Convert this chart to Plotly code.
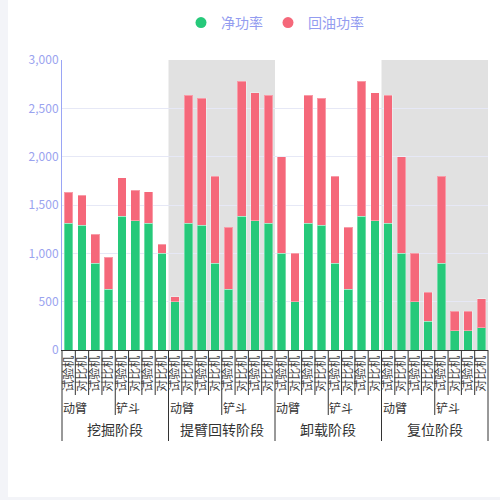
import plotly.graph_objects as go

# categories
stages = ["挖掘阶段", "提臂回转阶段", "卸载阶段", "复位阶段"]
parts = ["动臂", "铲斗"]
machines = ["试验机", "对比机", "试验机", "对比机"]

# series values (32 bars, stage by stage)
net_power = [1310, 1290, 900, 630, 1385, 1335, 1310, 1000,
             500, 1310, 1290, 900, 630, 1385, 1335, 1310,
             1000, 500, 1310, 1290, 900, 630, 1385, 1335,
             1310, 1000, 500, 300, 900, 200, 200, 230]
return_power = [320, 310, 300, 330, 395, 320, 325, 95,
                50, 1325, 1315, 900, 640, 1395, 1325, 1325,
                1000, 500, 1325, 1315, 900, 640, 1395, 1325,
                1325, 1000, 500, 300, 900, 200, 200, 300]

yticks = [0, 500, 1000, 1500, 2000, 2500, 3000]

GREEN = "#26c97a"
RED = "#f5687a"
PAGE = "#f3f4f8"
FONT = "Noto Sans CJK SC"

n = len(net_power)
x = list(range(n))
ticktext = [machines[i % len(machines)] for i in x]
per_stage = n // len(stages)
per_part = per_stage // len(parts)

# plot area in pixels: x 62..488, y 60..350
L, R, T, B = 62, 488, 60, 350
W, H = R - L, B - T


def px(v):
    return (v - L) / W


def py(v):
    return (B - v) / H


fig = go.Figure()
fig.add_trace(go.Bar(x=x, y=net_power, name="净功率", marker=dict(color=GREEN, line=dict(color="rgba(255,255,255,0.35)", width=1)),
                     showlegend=False))
fig.add_trace(go.Bar(x=x, y=return_power, name="回油功率", marker=dict(color=RED, line=dict(color="rgba(255,255,255,0.35)", width=1)),
                     showlegend=False))
# round legend markers
fig.add_trace(go.Scatter(x=[None], y=[None], mode="markers", name="净功率",
                         marker=dict(symbol="circle", size=11, color=GREEN)))
fig.add_trace(go.Scatter(x=[None], y=[None], mode="markers", name="回油功率",
                         marker=dict(symbol="circle", size=11, color=RED)))

shapes = []
# light page strips left of and below the white card
shapes.append(dict(type="rect", xref="paper", yref="paper", layer="below",
                   x0=px(0), x1=px(8), y0=py(500), y1=py(0), fillcolor=PAGE, line=dict(width=0)))
shapes.append(dict(type="rect", xref="paper", yref="paper", layer="below",
                   x0=px(0), x1=px(500), y0=py(500), y1=py(497), fillcolor=PAGE, line=dict(width=0)))
# shaded stages
for s in range(1, len(stages), 2):
    shapes.append(dict(type="rect", xref="paper", yref="paper", layer="below",
                       x0=s * per_stage / n, x1=(s + 1) * per_stage / n, y0=0, y1=1,
                       fillcolor="#e1e1e1", line=dict(width=0)))
# boundary ticks below the axis
for k in range(n + 1):
    if k % per_stage == 0:
        depth = 441
    elif k % per_part == 0:
        depth = 415
    else:
        depth = 395
    shapes.append(dict(type="line", xref="paper", yref="paper", x0=k / n, x1=k / n,
                       y0=0, y1=py(depth), line=dict(color="#333", width=1)))

annotations = []
for s, stage in enumerate(stages):
    annotations.append(dict(xref="paper", yref="paper", x=(s + 0.5) * per_stage / n, y=py(429),
                            text=stage, showarrow=False, xanchor="center", yanchor="middle",
                            font=dict(family=FONT, size=14, color="#333")))
    for p, part in enumerate(parts):
        annotations.append(dict(xref="paper", yref="paper", x=(s * per_stage + p * per_part) / n, y=py(407),
                                text=part, showarrow=False, xanchor="left", yanchor="middle", xshift=-1,
                                font=dict(family=FONT, size=12, color="#333")))

fig.update_layout(
    width=500, height=500,
    margin=dict(l=L, r=500 - R, t=T, b=500 - B, autoexpand=False),
    paper_bgcolor="white", plot_bgcolor="rgba(0,0,0,0)",
    barmode="stack", bargap=0.35,
    font=dict(family=FONT),
    legend=dict(orientation="h", x=0.5, xanchor="center", y=py(23), yanchor="middle", traceorder="normal",
                font=dict(size=14, color="#939cf0"), itemwidth=30, bgcolor="rgba(0,0,0,0)"),
    shapes=shapes, annotations=annotations,
)
fig.update_xaxes(range=[-0.5, n - 0.5], tickvals=x, ticktext=ticktext, tickangle=-90,
                 tickfont=dict(size=12, color="#444"), showline=True, linecolor="#333",
                 linewidth=1, showgrid=False, zeroline=False, ticks="", automargin=False)
fig.update_yaxes(range=[0, 3000], tickvals=yticks, tickformat=",", showline=True,
                 linecolor="#9aa5f5", linewidth=1, gridcolor="#e6e8f6", zeroline=False,
                 tickfont=dict(size=12, color="#9aa3ef"), ticks="", automargin=False)

fig.write_html("out.html", config={"displayModeBar": False},
               post_script="document.body.style.margin='0';document.body.style.overflow='hidden';")
